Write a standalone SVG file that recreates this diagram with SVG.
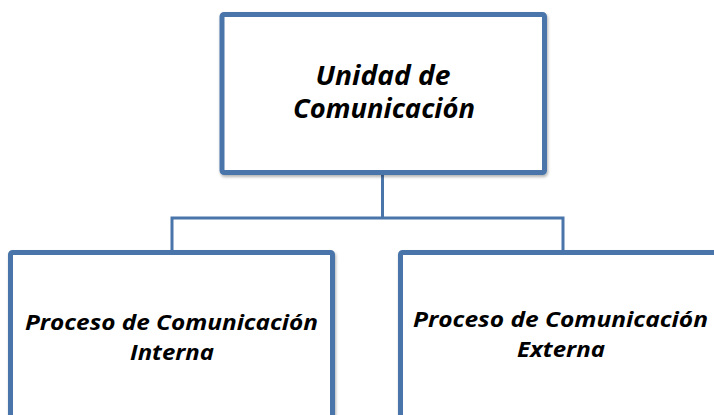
<svg xmlns="http://www.w3.org/2000/svg" width="714" height="415" viewBox="0 0 714 415">
<defs>
<filter id="sh" x="-10%" y="-10%" width="120%" height="130%">
<feDropShadow dx="1" dy="2" stdDeviation="1.5" flood-color="#000" flood-opacity="0.3"/>
</filter>
</defs>
<style>
.box{fill:#fff;stroke:#4a75aa;stroke-width:5;filter:url(#sh)}
.conn{fill:none;stroke:#4a75aa;stroke-width:3}
.t{font-family:"Open Sans","Liberation Sans",Arial,sans-serif;font-weight:bold;font-style:italic;fill:#000;text-anchor:middle}
.big{font-size:26px}
.small{font-size:21px}
</style>
<g id="connectors">
<path class="conn" d="M382.5 175 V218 M172 250 V218 H563 V250"/>
</g>
<g id="unidad">
<rect class="box" x="222" y="14.5" width="322.5" height="158" rx="2"/>
<text class="t big" x="383" y="85" textLength="135" lengthAdjust="spacingAndGlyphs">Unidad de</text>
<text class="t big" x="384" y="118" textLength="182" lengthAdjust="spacingAndGlyphs">Comunicación</text>
</g>
<g id="interna">
<rect class="box" x="10.5" y="252.5" width="322" height="180" rx="2"/>
<text class="t small" x="171.5" y="330" textLength="293" lengthAdjust="spacingAndGlyphs">Proceso de Comunicación</text>
<text class="t small" x="172" y="360" textLength="84" lengthAdjust="spacingAndGlyphs">Interna</text>
</g>
<g id="externa">
<rect class="box" x="400.5" y="252.5" width="330" height="180" rx="2"/>
<text class="t small" x="560.5" y="327" textLength="295" lengthAdjust="spacingAndGlyphs">Proceso de Comunicación</text>
<text class="t small" x="561" y="357" textLength="88" lengthAdjust="spacingAndGlyphs">Externa</text>
</g>
</svg>
